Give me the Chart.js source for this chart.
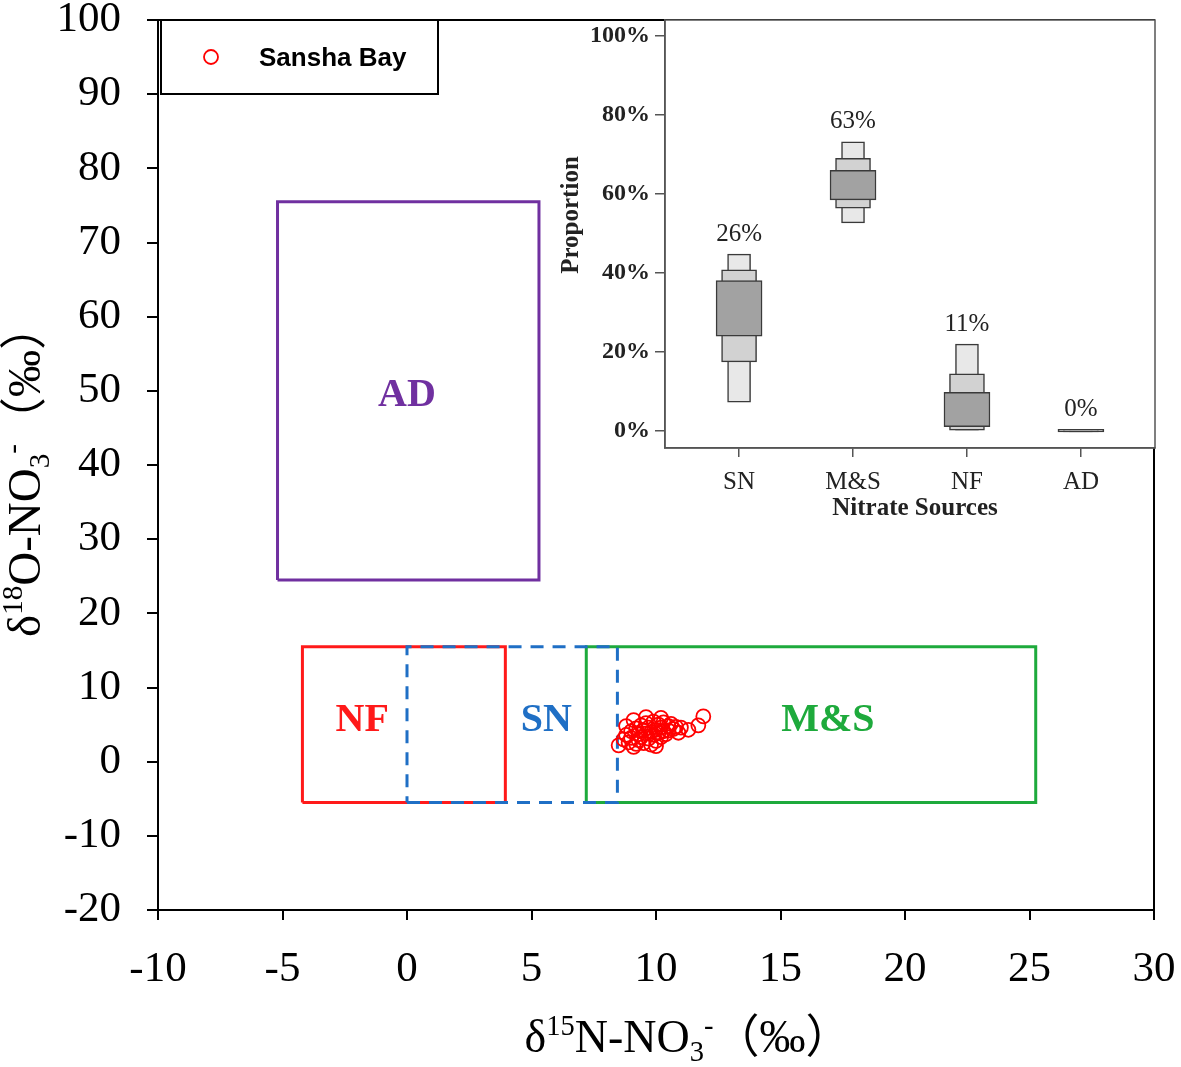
<!DOCTYPE html>
<html><head><meta charset="utf-8">
<script src="https://cdn.jsdelivr.net/npm/chart.js@4.4.1/dist/chart.umd.min.js"></script>
<style>
html,body{margin:0;padding:0;background:#fff;}
#wrap{position:relative;width:1181px;height:1067px;overflow:hidden;}
#main{position:absolute;left:0;top:0;}
#inset{position:absolute;left:540px;top:0;}
</style></head><body>
<div id="wrap"><canvas id="main" width="1181" height="1067"></canvas><canvas id="inset" width="641" height="540"></canvas></div>
<script>
// ---------- main chart data ----------
const xTickValues = [-10, -5, 0, 5, 10, 15, 20, 25, 30];
const yTickValues = [-20, -10, 0, 10, 20, 30, 40, 50, 60, 70, 80, 90, 100];
// source boxes: [xmin, xmax, ymin, ymax]
const boxAD = [-5.2, 5.3, 24.5, 75.5];
const boxNF = [-4.2, 3.95, -5.5, 15.5];
const boxSN = [0, 8.45, -5.5, 15.5];
const boxMS = [7.2, 25.25, -5.5, 15.5];
const boxNames = ['AD', 'NF', 'SN', 'M&S'];
const boxLabelX = [0.0, -1.8, 5.6, 16.9];
const boxLabelY = [49.3, 5.5, 5.5, 5.5];
// Sansha Bay samples
const sampleX = [8.5, 8.7, 8.8, 8.9, 9.0, 9.0, 9.1, 9.2, 9.2, 9.3, 9.3, 9.4, 9.4, 9.5, 9.5, 9.6, 9.6, 9.7, 9.7, 9.8, 9.8, 9.9, 9.9, 10.0, 10.0, 10.1, 10.1, 10.2, 10.2, 10.3, 10.3, 10.4, 10.5, 10.5, 10.6, 10.7, 10.8, 10.9, 11.0, 11.3, 11.7, 11.9, 9.1, 10.0, 8.8, 9.6, 10.2];
const sampleY = [2.2, 3.0, 3.6, 2.6, 4.1, 3.2, 5.6, 2.4, 4.5, 3.7, 2.9, 4.9, 3.3, 4.2, 2.5, 3.8, 5.2, 4.6, 3.1, 4.0, 2.3, 5.4, 3.6, 4.3, 2.8, 5.0, 3.9, 4.6, 3.3, 5.3, 4.1, 3.7, 4.8, 4.2, 5.1, 4.4, 4.7, 3.9, 4.6, 4.3, 4.9, 6.1, 2.0, 2.1, 4.8, 6.0, 5.9];

// ---------- inset data ----------
const sources = ['SN', 'M&S', 'NF', 'AD'];
const sourceMean = [26, 63, 11, 0];
const outerLo = [7.3, 52.7, 0.2, -0.2];
const outerHi = [44.8, 73.2, 22.0, 0.4];
const midLo = [17.5, 56.4, 0.2, -0.2];
const midHi = [40.8, 69.0, 14.5, 0.4];
const innerLo = [24.0, 58.5, 1.1, -0.2];
const innerHi = [38.1, 66.0, 9.8, 0.4];
const propTicks = [0, 20, 40, 60, 80, 100];

const COL = {AD:'#7030A0', NF:'#FF1A1A', SN:'#1F6FC5', MS:'#1EAA3C'};
const SERIF = '"Liberation Serif","Times New Roman",serif';
const RICHFONT = '"Liberation Serif","Noto Sans CJK SC",serif';

function rectPts(b){
  return [{x:b[0],y:b[2]},{x:b[1],y:b[2]},{x:b[1],y:b[3]},{x:b[0],y:b[3]},{x:b[0],y:b[2]}];
}
function richText(ctx, parts, cx, cy, size, rotate){
  ctx.save();
  ctx.translate(cx, cy);
  if (rotate) ctx.rotate(-Math.PI/2);
  let total = 0;
  const items = parts.map(p => {
    const fs = p[1] === 'n' ? size : size * 0.62;
    ctx.font = fs + 'px ' + RICHFONT;
    const w = ctx.measureText(p[0]).width;
    total += w;
    return {t:p[0], s:p[1], fs, w};
  });
  let x = -total / 2;
  ctx.textAlign = 'left';
  ctx.textBaseline = 'alphabetic';
  ctx.fillStyle = '#000';
  items.forEach(it => {
    ctx.font = it.fs + 'px ' + RICHFONT;
    const dy = it.s === 'sup' ? -size * 0.38 : (it.s === 'sub' ? size * 0.2 : 0);
    ctx.fillText(it.t, x, dy);
    x += it.w;
  });
  ctx.restore();
}

function lineDs(box, color, dash, order){
  return {type:'scatter', data: rectPts(box), showLine:true, pointRadius:0, borderColor:color,
    borderWidth:3, borderDash:dash, fill:false, tension:0, order:order, borderCapStyle:'butt'};
}

const mainPlugin = {
  id:'mainDecor',
  afterDatasetsDraw(chart){
    const ctx = chart.ctx, xs = chart.scales.x, ys = chart.scales.y;
    const cols = [COL.AD, COL.NF, COL.SN, COL.MS];
    ctx.save();
    ctx.font = 'bold 40px ' + SERIF;
    ctx.textAlign = 'center'; ctx.textBaseline = 'middle';
    boxNames.forEach((n,i)=>{
      ctx.fillStyle = cols[i];
      ctx.fillText(n, xs.getPixelForValue(boxLabelX[i]), ys.getPixelForValue(boxLabelY[i]));
    });
    ctx.restore();
  },
  afterDraw(chart){
    const ctx = chart.ctx, a = chart.chartArea;
    ctx.save();
    ctx.strokeStyle = '#000'; ctx.lineWidth = 2;
    ctx.beginPath();
    ctx.moveTo(a.left, a.top); ctx.lineTo(a.right, a.top); ctx.lineTo(a.right, a.bottom);
    ctx.stroke();
    // legend
    ctx.strokeRect(161, a.top, 277, 74);
    ctx.beginPath(); ctx.strokeStyle = '#FF0000'; ctx.lineWidth = 1.8;
    ctx.arc(211, a.top + 37, 7, 0, Math.PI*2); ctx.stroke();
    ctx.fillStyle = '#000';
    ctx.font = 'bold 26px "Liberation Sans",Arial,sans-serif';
    ctx.textAlign = 'left'; ctx.textBaseline = 'alphabetic';
    ctx.fillText('Sansha Bay', 259, a.top + 46);
    ctx.restore();
    // axis titles
    richText(ctx, [['δ','n'],['15','sup'],['N-NO','n'],['3','sub'],['-','sup'],['（‰）','n']], 688, 1052, 46, false);
    richText(ctx, [['δ','n'],['18','sup'],['O-NO','n'],['3','sub'],['-','sup'],['（‰）','n']], 40, 470, 47, true);
  }
};

new Chart(document.getElementById('main'), {
  type:'scatter',
  data:{datasets:[
    {label:'Sansha Bay', data: sampleX.map((x,i)=>({x, y:sampleY[i]})), pointRadius:7, pointBorderWidth:1.8,
     borderColor:'#FF0000', backgroundColor:'rgba(0,0,0,0)', pointHoverRadius:7, order:0},
    lineDs(boxSN, COL.SN, [13,9], 1),
    lineDs(boxMS, COL.MS, [], 2),
    lineDs(boxNF, COL.NF, [], 3),
    lineDs(boxAD, COL.AD, [], 4)
  ]},
  options:{
    responsive:false, animation:false, events:[],
    layout:{padding:{top:20, right:27, left:0, bottom:0}},
    plugins:{legend:{display:false}, tooltip:{enabled:false}},
    scales:{
      x:{type:'linear', min:-10, max:30,
        afterBuildTicks: s => { s.ticks = xTickValues.map(v=>({value:v})); },
        afterFit: s => { s.height = 157; s.paddingLeft = 0; s.paddingRight = 0; },
        ticks:{font:{family:SERIF, size:43}, color:'#000', padding:24, maxRotation:0},
        grid:{drawOnChartArea:false, drawTicks:true, tickLength:10, color:'#000', lineWidth:2},
        border:{display:true, color:'#000', width:2}},
      y:{type:'linear', min:-20, max:100,
        afterBuildTicks: s => { s.ticks = yTickValues.map(v=>({value:v})); },
        afterFit: s => { s.width = 158; s.paddingTop = 0; s.paddingBottom = 0; },
        ticks:{font:{family:SERIF, size:43}, color:'#000', padding:26},
        grid:{drawOnChartArea:false, drawTicks:true, tickLength:11, color:'#000', lineWidth:2},
        border:{display:true, color:'#000', width:2}}
    }
  },
  plugins:[mainPlugin]
});

// ---------- inset ----------
const insetPlugin = {
  id:'insetDecor',
  beforeDraw(chart){
    const ctx = chart.ctx, a = chart.chartArea;
    ctx.save(); ctx.fillStyle = '#fff';
    ctx.fillRect(a.left, a.top, a.right - a.left, a.bottom - a.top);
    ctx.restore();
  },
  afterDraw(chart){
    const ctx = chart.ctx, a = chart.chartArea, xs = chart.scales.x, ys = chart.scales.y;
    ctx.save();
    ctx.strokeStyle = '#555'; ctx.lineWidth = 1.5;
    ctx.strokeRect(a.left, a.top, a.right - a.left, a.bottom - a.top);
    ctx.fillStyle = '#222';
    ctx.font = '25px ' + SERIF;
    ctx.textAlign = 'center'; ctx.textBaseline = 'middle';
    sources.forEach((s,i)=>{
      ctx.fillText(sourceMean[i] + '%', xs.getPixelForValue(i), ys.getPixelForValue(outerHi[i]) - 20);
    });
    ctx.font = 'bold 25px ' + SERIF;
    ctx.fillText('Nitrate Sources', 375, 509);
    ctx.translate(32, 215); ctx.rotate(-Math.PI/2);
    ctx.fillText('Proportion', 0, 0);
    ctx.restore();
  }
};

function barDs(lo, hi, thick, bg, order){
  return {data: lo.map((v,i)=>({x:i, y:[v, hi[i]]})), barThickness:thick, backgroundColor:bg,
    borderColor:'#3a3a3a', borderWidth:1.5, borderSkipped:false, grouped:false, order:order};
}

new Chart(document.getElementById('inset'), {
  type:'bar',
  data:{datasets:[
    barDs(innerLo, innerHi, 46, '#a2a2a2', 1),
    barDs(midLo, midHi, 35, '#d2d2d2', 2),
    barDs(outerLo, outerHi, 23, '#e8e8e8', 3)
  ]},
  options:{
    responsive:false, animation:false, events:[],
    layout:{padding:{top:20, right:26, left:0, bottom:0}},
    plugins:{legend:{display:false}, tooltip:{enabled:false}},
    scales:{
      x:{type:'linear', min:-0.65, max:3.65, offset:false,
        afterBuildTicks: s => { s.ticks = sources.map((c,i)=>({value:i})); },
        afterFit: s => { s.height = 92; s.paddingLeft = 0; s.paddingRight = 0; },
        ticks:{font:{family:SERIF, size:25}, color:'#222', padding:10, callback:(v,i)=>sources[i]},
        grid:{offset:false, drawOnChartArea:false, drawTicks:true, tickLength:9, color:'#555', lineWidth:1.5},
        border:{display:true, color:'#555', width:1.5}},
      y:{type:'linear', min:-4.3, max:104.05,
        afterBuildTicks: s => { s.ticks = propTicks.map(v=>({value:v})); },
        afterFit: s => { s.width = 125; s.paddingTop = 0; s.paddingBottom = 0; },
        ticks:{font:{family:SERIF, size:24, weight:'bold'}, color:'#222', padding:5, callback:v=>v+'%'},
        grid:{drawOnChartArea:false, drawTicks:true, tickLength:10, color:'#555', lineWidth:1.5},
        border:{display:true, color:'#555', width:1.5}}
    }
  },
  plugins:[insetPlugin]
});
</script>
</body></html>
